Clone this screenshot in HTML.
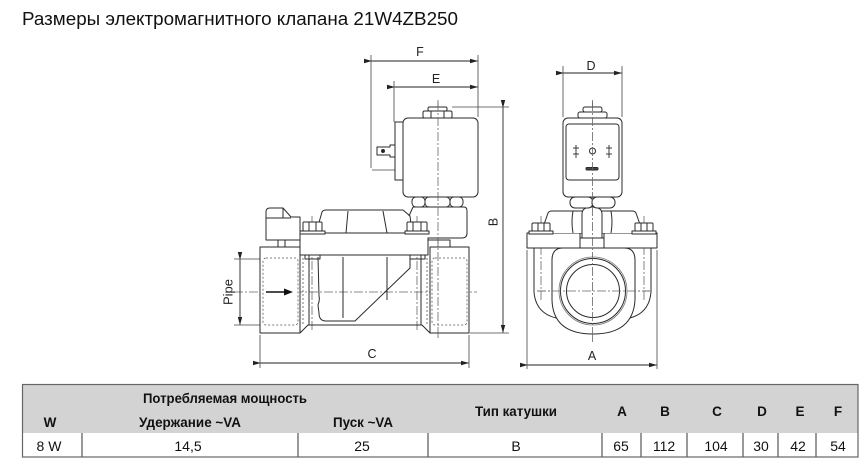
<!DOCTYPE html>
<html><head><meta charset="utf-8"><style>
html,body{margin:0;padding:0;background:#fff;}
svg{display:block;}
</style></head><body>
<svg width="867" height="470" viewBox="0 0 867 470" xmlns="http://www.w3.org/2000/svg" font-family="Liberation Sans, Arial, sans-serif">
<rect width="867" height="470" fill="#fff"/>
<text x="22" y="25" font-size="18" fill="#111" textLength="436" lengthAdjust="spacingAndGlyphs">Размеры электромагнитного клапана 21W4ZB250</text>

<defs>
<marker id="ar" markerWidth="8" markerHeight="5" refX="7.5" refY="2.5" orient="auto" markerUnits="userSpaceOnUse">
<path d="M0,0.3 L8,2.5 L0,4.7 Z" fill="#222"/>
</marker>
</defs>

<!-- ===== centerlines ===== -->
<g stroke="#666" stroke-width="0.8" fill="none" stroke-dasharray="9,2,2,2">
<line x1="438" y1="100" x2="438" y2="340"/>
<line x1="234" y1="292" x2="477" y2="292"/>
<line x1="312" y1="216" x2="312" y2="332"/>
<line x1="417" y1="216" x2="417" y2="332"/>
<line x1="592.5" y1="100" x2="592.5" y2="342"/>
<line x1="537" y1="291" x2="650" y2="291"/>
<line x1="541" y1="216" x2="541" y2="300"/>
<line x1="644" y1="216" x2="644" y2="300"/>
</g>

<!-- ===== extension lines ===== -->
<g stroke="#444" stroke-width="0.8" fill="none">
<line x1="371" y1="55" x2="371" y2="168"/>
<line x1="372" y1="170" x2="395" y2="170"/>
<line x1="394" y1="81" x2="394" y2="122"/>
<line x1="478" y1="55" x2="478" y2="117"/>
<line x1="452" y1="107" x2="509" y2="107"/>
<line x1="470" y1="333" x2="509" y2="333"/>
<line x1="234" y1="259" x2="262" y2="259"/>
<line x1="234" y1="325" x2="262" y2="325"/>
<line x1="260" y1="335" x2="260" y2="368"/>
<line x1="469" y1="335" x2="469" y2="368"/>
<line x1="563" y1="66" x2="563" y2="117"/>
<line x1="622" y1="66" x2="622" y2="117"/>
<line x1="527" y1="250" x2="527" y2="369"/>
<line x1="657" y1="250" x2="657" y2="369"/>
</g>

<!-- ===== dimension lines ===== -->
<g stroke="#222" stroke-width="0.9" fill="none" marker-start="url(#ar)" marker-end="url(#ar)">
<line x1="379" y1="61" x2="470" y2="61" marker-start="none" marker-end="none"/>
</g>
<g stroke="#222" stroke-width="0.9" fill="none">
<line x1="371.5" y1="61" x2="477.5" y2="61" marker-start="url(#ar)" marker-end="url(#ar)"/>
<line x1="394.5" y1="87" x2="477.5" y2="87" marker-start="url(#ar)" marker-end="url(#ar)"/>
<line x1="503" y1="107.5" x2="503" y2="332.5" marker-start="url(#ar)" marker-end="url(#ar)"/>
<line x1="240" y1="259.5" x2="240" y2="324.5" marker-start="url(#ar)" marker-end="url(#ar)"/>
<line x1="260.5" y1="363" x2="468.5" y2="363" marker-start="url(#ar)" marker-end="url(#ar)"/>
<line x1="563.5" y1="73" x2="621.5" y2="73" marker-start="url(#ar)" marker-end="url(#ar)"/>
<line x1="527.5" y1="365" x2="656.5" y2="365" marker-start="url(#ar)" marker-end="url(#ar)"/>
</g>

<!-- dimension labels -->
<g font-size="12.5" fill="#222" text-anchor="middle">
<text x="420" y="56">F</text>
<text x="436" y="83">E</text>
<text x="372" y="358">C</text>
<text x="591" y="70">D</text>
<text x="592" y="360">A</text>
<text transform="translate(497.5,222) rotate(-90)">B</text>
<text transform="translate(232.5,292) rotate(-90)" font-size="13">Pipe</text>
</g>

<!-- ===== LEFT VIEW ===== -->
<g stroke="#2a2a2a" stroke-width="1" fill="none" stroke-linejoin="round">
<!-- ports -->
<rect x="260" y="247" width="40" height="86" fill="#fff"/>
<rect x="430" y="247" width="39" height="86" fill="#fff"/>
<path d="M300,333 L308,325 L422,325 L430,333"/>
<line x1="309" y1="255" x2="309" y2="325"/>
<line x1="421" y1="255" x2="421" y2="325"/>
<!-- thread dotted -->
<g stroke="#555" stroke-width="0.8" stroke-dasharray="2,2">
<rect x="263" y="258" width="35" height="67" rx="3"/>
<rect x="432" y="258" width="35" height="67" rx="3"/>
<line x1="303" y1="258" x2="303" y2="325"/>
<line x1="427" y1="258" x2="427" y2="325"/>
</g>
<!-- flow arrow -->
<line x1="266" y1="292" x2="285" y2="292" stroke="#111" stroke-width="1.6"/>
<path d="M284,288.5 L293,292 L284,295.5 Z" fill="#111" stroke="none"/>
<!-- inner -->
<line x1="343" y1="257" x2="343" y2="318"/>
<line x1="387" y1="257" x2="387" y2="300"/>
<path d="M410,257 L410,268 L355,321 L326,321 Q319,321 319,313 L318,305 Q320,300 319,296 L318,257"/>
<!-- flange -->
<rect x="300" y="233" width="128" height="22" fill="#fff"/>
<rect x="305" y="255" width="15" height="4"/>
<rect x="410" y="255" width="15" height="4"/>
<!-- lever -->
<path d="M266,240 L266,212 Q266,208 270,208 L283,208 L291,217 L300,217 L300,240 Z" fill="#fff"/>
<line x1="266" y1="218" x2="291" y2="218"/>
<line x1="283" y1="208" x2="283" y2="218"/>
<rect x="278" y="240" width="7" height="7" fill="#fff"/>
<!-- neck right -->
<path d="M428,240 L450,240 L450,247"/>
<!-- bonnet cover -->
<path d="M316,233 L322,212 Q323,210 326,210 L403,210 L410,216 L412,233 Z" fill="#fff"/>
<path d="M348,211 L346,233"/>
<path d="M383,211 L387,233"/>
<!-- coil bonnet -->
<path d="M413,207 L464,207 Q467,207 467,211 L467,233 Q467,238 462,238 L428,238" fill="#fff"/>
<path d="M413,207 L409,216"/>
<!-- bolts -->
<rect x="300" y="231" width="25" height="3" fill="#fff"/>
<rect x="303" y="222" width="19" height="9" rx="1" fill="#fff"/>
<line x1="309" y1="222" x2="309" y2="231"/><line x1="316" y1="222" x2="316" y2="231"/>
<rect x="405" y="231" width="24" height="3" fill="#fff"/>
<rect x="407" y="222" width="20" height="9" rx="1" fill="#fff"/>
<line x1="413" y1="222" x2="413" y2="231"/><line x1="421" y1="222" x2="421" y2="231"/>
<!-- lower nut -->
<rect x="412" y="197" width="13" height="10" rx="4" fill="#fff"/>
<rect x="425" y="197" width="25" height="10" rx="4" fill="#fff"/>
<rect x="450" y="197" width="13" height="10" rx="4" fill="#fff"/>
<!-- coil -->
<rect x="403" y="118" width="75" height="79" rx="5" fill="#fff"/>
<rect x="395" y="122" width="8" height="58" fill="#fff"/>
<path d="M377,147 L390,147 L390,145 L395,145 L395,157 L390,157 L390,155 L377,155 Z" fill="#fff"/>
<circle cx="383" cy="151" r="1.5" fill="#222"/>
<!-- top nut -->
<rect x="423" y="111" width="29" height="7" rx="1.5" fill="#fff"/>
<line x1="431" y1="111" x2="431" y2="118"/><line x1="444" y1="111" x2="444" y2="118"/>
<rect x="428" y="107" width="19" height="4" rx="1.5" fill="#fff"/>
</g>
<!-- redraw centerline over coil -->
<g stroke="#666" stroke-width="0.8" fill="none" stroke-dasharray="9,2,2,2">
<line x1="438" y1="102" x2="438" y2="338"/>
</g>

<!-- ===== RIGHT VIEW ===== -->
<g stroke="#2a2a2a" stroke-width="1" fill="none" stroke-linejoin="round">
<!-- body lobes -->
<path d="M534,248 L534,292 Q536,316 562,319"/>
<path d="M651,248 L651,292 Q649,316 624,319"/>
<path d="M552,260 Q552,248 563,248 L624,248 Q635,248 635,260 L635,300 Q633,334 593,334 Q553,334 552,300 Z" fill="#fff"/>
<circle cx="593" cy="291" r="34" stroke="#777" stroke-width="0.8"/>
<circle cx="593" cy="291" r="32.5"/>
<circle cx="593" cy="291" r="26.5"/>
<!-- flange -->
<rect x="527" y="233" width="130" height="15" fill="#fff"/>
<line x1="580" y1="233" x2="580" y2="248"/>
<line x1="604" y1="233" x2="604" y2="248"/>
<!-- bonnet -->
<path d="M541,233 L548,213 Q549,211 552,211 L632,211 Q635,211 636,213 L643,233" fill="#fff"/>
<path d="M573,211 Q571,222 573,233"/>
<path d="M611,211 Q613,222 611,233"/>
<!-- stem -->
<path d="M582,238 L582,214 Q582,207 592,207 Q602,207 602,214 L602,238" fill="#fff"/>
<line x1="580" y1="238" x2="604" y2="238"/>
<!-- bolts -->
<rect x="529" y="231" width="24" height="3" fill="#fff"/>
<rect x="532" y="223" width="18" height="8" rx="1" fill="#fff"/>
<line x1="538" y1="223" x2="538" y2="231"/><line x1="544" y1="223" x2="544" y2="231"/>
<rect x="632" y="231" width="24" height="3" fill="#fff"/>
<rect x="635" y="223" width="18" height="8" rx="1" fill="#fff"/>
<line x1="641" y1="223" x2="641" y2="231"/><line x1="647" y1="223" x2="647" y2="231"/>
<!-- nut -->
<rect x="570" y="197" width="23" height="11" rx="5" fill="#fff"/>
<rect x="592" y="197" width="23" height="11" rx="5" fill="#fff"/>
<!-- coil -->
<rect x="563" y="118" width="59" height="79" rx="5" fill="#fff"/>
<rect x="566" y="124" width="53" height="56" rx="3"/>
<rect x="578" y="112" width="29" height="6" rx="2" fill="#fff"/>
<rect x="583" y="107" width="19" height="5" rx="2" fill="#fff"/>
<circle cx="592.5" cy="151" r="3"/>
<g stroke-width="0.9">
<line x1="576" y1="145" x2="576" y2="158"/><line x1="573" y1="148" x2="579" y2="148"/><line x1="573" y1="154" x2="579" y2="154"/>
<line x1="609" y1="145" x2="609" y2="158"/><line x1="606" y1="148" x2="612" y2="148"/><line x1="606" y1="154" x2="612" y2="154"/>
</g>
<rect x="586" y="167.5" width="12" height="2.5" rx="1" fill="#444"/>
</g>
<g stroke="#666" stroke-width="0.8" fill="none" stroke-dasharray="9,2,2,2">
<line x1="592.5" y1="102" x2="592.5" y2="342"/>
<line x1="537" y1="291" x2="650" y2="291"/>
</g>

<!-- ===== TABLE ===== -->
<rect x="22" y="384" width="836" height="49" fill="#d3d3d3"/>
<rect x="22" y="433" width="836" height="24" fill="#fff"/>
<g stroke="#333" stroke-width="1">
<line x1="82" y1="433" x2="82" y2="457"/>
<line x1="298" y1="433" x2="298" y2="457"/>
<line x1="428" y1="433" x2="428" y2="457"/>
<line x1="602" y1="433" x2="602" y2="457"/>
<line x1="641" y1="433" x2="641" y2="457"/>
<line x1="687" y1="433" x2="687" y2="457"/>
<line x1="743" y1="433" x2="743" y2="457"/>
<line x1="778" y1="433" x2="778" y2="457"/>
<line x1="816" y1="433" x2="816" y2="457"/>
</g>
<rect x="22.5" y="384.5" width="835.5" height="72.5" fill="none" stroke="#666" stroke-width="1.2"/>
<g font-size="13.5" font-weight="bold" fill="#111" text-anchor="middle">
<text x="225" y="403" textLength="164" lengthAdjust="spacingAndGlyphs">Потребляемая мощность</text>
<text x="50" y="427">W</text>
<text x="190" y="427" textLength="102" lengthAdjust="spacingAndGlyphs">Удержание ~VA</text>
<text x="363" y="427" textLength="60" lengthAdjust="spacingAndGlyphs">Пуск ~VA</text>
<text x="516" y="416" textLength="82" lengthAdjust="spacingAndGlyphs">Тип катушки</text>
<text x="622" y="416">A</text>
<text x="665" y="416">B</text>
<text x="717" y="416">C</text>
<text x="762" y="416">D</text>
<text x="800" y="416">E</text>
<text x="838" y="416">F</text>
</g>
<g font-size="14" fill="#111" text-anchor="middle">
<text x="49" y="451">8 W</text>
<text x="188" y="451">14,5</text>
<text x="362" y="451">25</text>
<text x="516" y="451">B</text>
<text x="621" y="451">65</text>
<text x="664" y="451">112</text>
<text x="716" y="451">104</text>
<text x="761" y="451">30</text>
<text x="798" y="451">42</text>
<text x="838" y="451">54</text>
</g>
</svg>
</body></html>
